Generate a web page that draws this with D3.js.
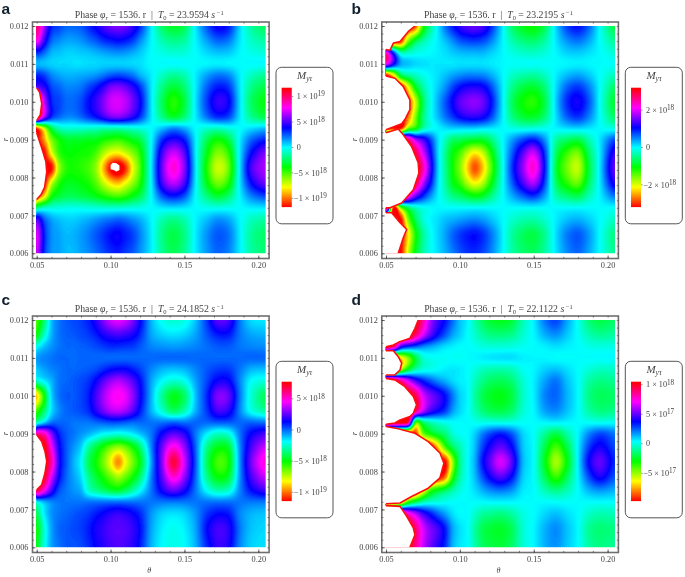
<!DOCTYPE html>
<html><head><meta charset="utf-8">
<style>html,body{margin:0;padding:0;background:#fff}svg{display:block;filter:blur(0.25px)}
text{font-family:"Liberation Serif",serif;fill:#444}</style>
<script src="https://cdn.jsdelivr.net/npm/d3@7"></script></head><body>
<svg id="c" width="685" height="577"></svg>
<script>
// theta (x 1e-3) columns and r (x 1e-3) rows of every grid
const thetaCols=[50,55,60,65,70,75,80,85,90,95,100,105,110,115,120,127.5,135,142.5,150,157.5,165,172.5,180,187.5,195,205];
const rRows=[12,11.6,11.3,11,10.7,10.4,10,9.6,9.3,9,8.65,8.25,7.85,7.5,7.2,6.9,6.5,6];
// field values, read as percent of the colour bar half-range (-100 bottom, +100 top)
const gridA=[
[90,55,30,25,20,20,22,28,35,42,48,50,48,40,28,2,-20,-28,-22,2,22,35,30,5,-12,-22],
[70,40,20,15,12,12,14,18,22,27,30,32,30,25,15,1,-10,-15,-12,1,12,20,17,3,-7,-12],
[30,20,10,8,6,6,7,8,10,12,14,15,14,11,7,0,-4,-6,-5,0,5,8,7,1,-3,-5],
[10,8,6,5,5,4,4,5,5,6,6,6,6,5,4,0,0,0,0,0,1,2,1,0,0,0],
[30,25,16,12,10,10,11,12,14,18,22,24,22,18,10,2,-8,-14,-10,2,12,18,15,2,-8,-14],
[45,38,24,20,16,16,18,24,30,38,48,50,46,38,26,3,-16,-26,-18,2,20,30,26,3,-15,-24],
[100,60,30,25,20,20,24,32,40,50,60,62,58,48,34,3,-22,-38,-25,3,25,40,34,4,-20,-32],
[100,55,28,20,16,16,20,26,32,40,48,50,46,38,26,3,-16,-28,-18,2,18,28,24,3,-14,-24],
[-90,-60,-25,-10,-6,-6,-6,-7,-8,-10,-10,-10,-8,-6,-4,0,8,15,10,0,-6,-8,-4,0,4,8],
[-100,-80,-50,-35,-28,-28,-28,-30,-30,-35,-38,-40,-36,-30,-24,0,28,38,30,2,-22,-34,-24,2,20,30],
[-100,-100,-65,-40,-33,-33,-35,-36,-42,-55,-65,-68,-60,-50,-36,1,42,60,44,2,-30,-50,-38,3,32,50],
[-100,-100,-100,-55,-38,-36,-38,-42,-52,-75,-100,-110,-95,-65,-42,2,48,72,50,3,-36,-60,-46,3,42,56],
[-100,-100,-60,-38,-30,-30,-32,-36,-44,-58,-70,-75,-65,-52,-36,1,42,58,42,2,-30,-48,-36,3,32,48],
[-90,-70,-35,-26,-22,-22,-24,-26,-30,-35,-40,-42,-38,-30,-22,0,22,30,22,0,-16,-26,-18,1,16,24],
[-15,-8,-5,-4,-3,-3,-3,-4,-5,-6,-6,-6,-5,-4,-3,0,3,4,3,0,-2,-3,-2,0,2,3],
[45,22,12,8,6,6,8,10,13,16,18,20,18,14,10,1,-10,-15,-10,1,8,14,11,1,-8,-12],
[65,30,15,12,9,10,13,17,22,27,32,34,30,25,16,2,-16,-24,-16,2,14,22,18,2,-13,-20],
[62,28,14,12,9,9,12,15,19,24,28,30,26,22,14,2,-14,-22,-14,2,13,20,16,2,-12,-18]];
const gridB=[
[-100,-100,-100,-100,-90,-40,-15,2,18,30,40,45,47,43,32,7,-18,-30,-34,-22,5,25,32,20,-2,-25],
[-100,-100,-95,-50,-25,-12,-4,2,8,15,22,25,26,24,18,4,-10,-17,-19,-12,3,14,18,11,-1,-14],
[70,25,-10,-8,-4,-2,0,2,4,7,9,10,10,10,7,2,-4,-7,-8,-5,1,6,7,4,0,-6],
[65,35,12,8,5,4,3,3,3,3,4,4,4,4,3,1,-1,-1,-1,-1,0,1,2,1,0,-1],
[-100,-70,-25,-14,-8,-3,1,4,8,12,15,17,17,16,12,3,-7,-11,-13,-8,2,9,12,7,-1,-9],
[-100,-100,-100,-65,-30,-12,-1,6,14,24,32,36,37,35,26,6,-14,-24,-27,-17,4,20,26,16,-1,-20],
[-100,-100,-100,-90,-60,-22,-3,10,22,34,45,50,52,48,36,8,-20,-34,-38,-24,6,28,36,22,-2,-28],
[-100,-100,-100,-85,-50,-18,-2,8,18,26,34,38,39,36,27,6,-15,-26,-28,-18,4,21,27,16,-1,-21],
[-100,-100,-100,-50,-35,-12,-2,1,4,6,6,6,6,4,3,1,-3,-5,-4,-2,1,4,5,3,0,-4],
[100,100,100,85,55,42,25,5,-8,-20,-22,-26,-28,-28,-20,-3,12,24,30,14,-12,-20,-24,-10,4,24],
[100,100,100,100,90,62,35,6,-14,-32,-42,-58,-68,-60,-40,-7,20,44,60,26,-20,-40,-48,-20,4,40],
[100,100,100,100,100,78,42,7,-14,-34,-50,-72,-90,-76,-50,-10,25,52,72,30,-25,-48,-58,-25,5,48],
[100,100,100,100,90,58,32,5,-12,-30,-40,-56,-66,-58,-38,-7,20,42,56,24,-20,-38,-46,-20,4,38],
[100,100,90,70,45,28,14,2,-7,-16,-20,-26,-30,-28,-18,-3,10,20,26,12,-10,-18,-22,-9,2,18],
[100,-100,-50,-22,-8,-2,0,1,0,0,0,0,0,0,0,0,0,0,0,0,0,0,0,0,0,0],
[-100,-100,-100,-50,-22,-6,1,4,8,10,12,14,15,13,9,2,-6,-10,-11,-6,2,8,10,6,0,-8],
[-100,-100,-100,-70,-36,-14,-2,5,12,20,26,30,32,28,20,5,-12,-21,-24,-14,4,17,22,13,-1,-17],
[-100,-100,-100,-60,-30,-12,-2,4,10,17,23,27,28,25,18,4,-11,-19,-21,-12,3,15,20,11,-1,-15]];
const gridC=[
[-42,-20,8,18,22,24,26,30,38,50,60,64,60,50,34,10,-2,-6,-3,8,26,45,42,18,5,3],
[-30,-8,10,18,21,22,24,26,30,36,40,42,40,36,28,12,6,4,6,12,22,30,30,18,12,10],
[0,8,14,18,20,20,21,22,24,26,28,28,27,26,22,16,14,13,14,16,19,22,22,18,16,15],
[14,16,18,20,20,20,20,20,20,20,20,20,20,20,20,20,20,20,20,20,20,20,20,20,20,20],
[8,12,16,18,20,20,21,22,24,28,32,34,34,30,25,16,10,8,10,16,22,26,26,18,10,8],
[-5,2,10,18,20,22,24,27,34,44,52,56,52,44,32,12,0,-6,-2,12,24,35,34,16,0,-4],
[-72,-35,5,18,22,22,25,30,42,54,64,68,64,52,35,10,-14,-30,-20,8,28,50,46,18,-5,-22],
[-40,-20,4,15,20,22,24,28,38,48,56,58,54,44,30,10,-6,-20,-10,10,26,42,38,16,-2,-12],
[-8,5,18,20,20,18,18,18,20,22,24,24,22,20,20,18,18,20,18,20,20,22,22,20,20,18],
[80,75,50,30,22,18,14,10,5,0,-2,-4,-2,2,8,18,35,45,38,18,2,-8,-4,18,34,42],
[100,100,66,36,22,14,6,-12,-24,-36,-46,-52,-46,-34,-18,16,48,70,52,20,-14,-30,-26,15,42,60],
[100,100,78,38,22,10,0,-22,-34,-48,-65,-82,-65,-48,-30,12,52,92,60,22,-20,-42,-34,14,48,72],
[100,95,62,34,20,12,4,-14,-26,-36,-46,-54,-46,-34,-18,16,46,72,52,20,-14,-32,-26,14,42,60],
[92,68,42,24,18,14,10,-6,-14,-20,-26,-28,-22,-12,0,18,36,46,36,18,0,-10,-6,16,32,42],
[2,10,16,18,18,18,18,18,18,18,18,18,18,18,18,18,18,18,18,18,18,18,18,18,18,18],
[-20,2,14,18,20,22,24,26,30,34,38,40,38,34,28,14,6,4,6,14,26,32,30,16,10,8],
[-32,-6,12,20,22,24,26,30,36,40,44,45,44,40,32,12,2,-2,2,12,32,42,38,18,8,5],
[-28,-4,12,18,22,22,24,28,34,38,42,44,42,38,30,10,0,-3,0,10,28,40,36,16,6,4]];
const gridD=[
[100,100,100,100,100,80,55,42,32,20,8,2,-10,-20,-27,-30,-26,-10,2,18,25,12,-2,-18,-24,-20],
[100,100,100,100,85,62,45,32,22,12,6,0,-6,-12,-16,-17,-15,-6,1,10,14,7,-1,-10,-14,-12],
[100,85,40,28,22,16,12,8,4,2,0,0,-2,-4,-5,-5,-4,-2,0,2,4,2,0,-3,-4,-3],
[-100,-90,-70,-50,-25,-6,-2,-1,-1,-1,-1,0,1,2,3,4,4,2,1,1,0,0,0,0,0,0],
[-100,-100,-60,-30,-12,-4,-2,0,2,3,2,0,-4,-8,-10,-11,-9,-2,1,6,8,4,0,-5,-8,-7],
[100,100,80,60,42,30,22,15,10,5,2,0,-8,-15,-20,-22,-18,-6,2,12,18,8,0,-12,-16,-14],
[100,100,100,100,90,62,50,42,32,18,6,1,-12,-22,-28,-31,-25,-8,2,16,20,10,0,-16,-22,-20],
[100,100,100,100,85,58,42,34,26,13,5,0,-9,-17,-22,-24,-19,-6,1,12,15,8,0,-12,-17,-15],
[100,100,100,85,-40,-20,-10,-5,-2,0,0,0,-2,-3,-3,-4,-3,-1,0,1,2,1,0,-1,-2,-1],
[-100,-100,-100,-100,-95,-50,-35,-25,-18,-6,-1,0,6,16,24,30,22,6,-1,-14,-24,-12,1,16,24,18],
[-100,-100,-100,-100,-100,-100,-100,-75,-42,-22,-10,-1,8,24,36,46,34,8,-1,-24,-42,-24,2,26,36,24],
[-100,-100,-100,-100,-100,-100,-100,-100,-100,-55,-16,-1,10,30,45,62,45,10,-1,-30,-55,-32,2,34,46,28],
[-100,-100,-100,-100,-100,-100,-100,-100,-85,-40,-12,-1,8,22,34,44,32,7,-1,-22,-40,-22,1,24,36,22],
[-100,-100,-100,-100,-100,-70,-42,-30,-22,-12,-4,0,4,10,15,18,14,3,0,-10,-16,-10,0,10,14,10],
[-100,-100,-80,-42,-25,-12,-6,-4,-2,-1,0,0,0,0,1,1,1,0,0,0,-1,-1,0,0,0,0],
[100,100,90,70,55,40,30,20,12,4,0,0,-6,-12,-14,-16,-12,-4,0,5,8,4,0,-7,-10,-9],
[100,100,100,100,85,62,50,42,30,12,4,0,-12,-22,-26,-28,-22,-6,1,10,15,8,0,-14,-18,-16],
[100,100,100,100,82,60,48,38,28,10,3,0,-10,-20,-24,-26,-20,-6,1,10,14,7,0,-12,-16,-14]];
// white (out of range) regions at the left edge: lists of [theta, r] boundary points
const lobesA=[[[50,10.37],[52,10.25],[53.4,9.95],[52.4,9.65],[50,9.5]],
 [[50,9.18],[53.4,8.78],[56.2,8.42],[56.8,8.15],[55.4,7.75],[53,7.55],[50,7.42]]];
const lobesB=[[[50,11.38],[52.7,11.36],[55,11.55],[59.5,11.59],[65,11.85],[69.5,12]],
 [[50,10.68],[56.1,10.62],[61.7,10.4],[66.2,10.05],[66.2,9.79],[62.8,9.53],[60.6,9.42],[50,9.26]],
 [[50,9.18],[58.3,9.28],[61.7,9.13],[67.3,8.82],[71.8,8.39],[72.3,8.12],[68.5,7.68],[60.6,7.33],[52.7,7.2],[50,7.2]],
 [[50,7.07],[53.8,7.07],[59.5,6.81],[64,6.63],[61.7,6.41],[58.3,6]]];
const lobesC=[[[50,8.97],[53.4,8.79],[55.6,8.53],[56.8,8.27],[55.6,7.96],[53.4,7.65],[50,7.52]]];
const lobesD=[[[50,11.29],[55,11.34],[58.3,11.41],[66.2,11.52],[69.6,11.78],[71.8,12]],
 [[50,11.19],[55,11.19],[58.3,11.03],[60.6,10.86],[59.5,10.68],[56,10.55],[50,10.55]],
 [[50,10.46],[56,10.42],[62.8,10.24],[68.5,9.98],[70.7,9.76],[68.5,9.54],[66.2,9.45],[59.5,9.36],[56,9.28],[50,9.25]],
 [[50,9.19],[58.3,9.13],[69.6,9.01],[78.6,8.79],[86.5,8.49],[89.2,8.22],[86.5,7.83],[78.6,7.56],[67.3,7.34],[59.5,7.17],[50,7.15]],
 [[50,7.1],[59.5,7.08],[64,6.82],[68.5,6.51],[69.6,6.33],[66.2,6]]];
// out-of-range core inside panel a
const holeA=[[100,8.33],[101.5,8.39],[104,8.38],[106,8.32],[106,8.2],[104,8.16],[102,8.2],[100,8.22]];
// colour bar ranges (values at bottom and top) and ticks as [mantissa, exponent]
const rangeA=[-11.7e18,11.7e18], rangeB=[-3.18e18,3.18e18], rangeC=[-11.4e18,7.7e18], rangeD=[-0.97e18,1.046e18];
const ticksA=[[1,19],[5,18],[0,0],[-5,18],[-1,19]];
const ticksB=[[2,18],[0,0],[-2,18]];
const ticksC=[[5,18],[0,0],[-5,18],[-1,19]];
const ticksD=[[1,18],[5,17],[0,0],[-5,17]];
const labels=["a","b","c","d"], rates=["23.9594","23.2195","24.1852","22.1122"];
const xTicks=[0.05,0.10,0.15,0.20], yTicks=[0.006,0.007,0.008,0.009,0.010,0.011,0.012];

const svg=d3.select("#c");
const defs=svg.append("defs");
defs.append("filter").attr("id","soft").attr("x","-2%").attr("y","-2%").attr("width","104%").attr("height","104%")
  .append("feGaussianBlur").attr("stdDeviation",0.55);
const hue=d3.scaleLinear([-100,100],[0,360]);
const colour=p=>d3.hsl(Math.min(359.9,Math.max(0,hue(p))),1,0.5).formatRgb();
const thresholds=d3.range(-100,100,1);
function cr(a,b,c,d,t){return 0.5*(2*b+(c-a)*t+(2*a-5*b+4*c-d)*t*t+(3*b-a-3*c+d)*t*t*t);}

function panel(i,grid,lobes,hole,range,ticks){
  const dx=i%2?349.3:0, dy=i>1?294:0;
  const x0=36.7+dx,x1=265.7+dx,y0=26+dy,y1=253.3+dy;
  const g=svg.append("g");
  const x=d3.scaleLinear([0.05,0.205],[x0,x1]), y=d3.scaleLinear([0.012,0.006],[y0,y1]);
  const W=230,H=228;
  const colIdx=d3.scaleLinear(thetaCols,d3.range(thetaCols.length));
  const rowIdx=d3.scaleLinear(rRows,d3.range(rRows.length));
  const px=d3.scaleLinear([0,W],[x0,x1]),py=d3.scaleLinear([0,H],[y0,y1]);
  const vals=new Float64Array(W*H);
  const C=grid[0].length,Rn=grid.length;
  const at=(r,c)=>grid[Math.max(0,Math.min(Rn-1,r))][Math.max(0,Math.min(C-1,c))];
  for(let j=0;j<H;j++){
    const rv=rowIdx(y.invert(py(j+0.5))*1000),r0=Math.min(Rn-2,Math.floor(rv)),tr=rv-r0;
    const rowv=new Array(C);
    for(let c=0;c<C;c++)rowv[c]=cr(at(r0-1,c),at(r0,c),at(r0+1,c),at(r0+2,c),tr);
    for(let k=0;k<W;k++){
      const cv=colIdx(x.invert(px(k+0.5))*1000),c0=Math.min(C-2,Math.floor(cv)),tc=cv-c0;
      const v=cr(rowv[Math.max(0,c0-1)],rowv[c0],rowv[c0+1],rowv[Math.min(C-1,c0+2)],tc);
      vals[j*W+k]=Math.max(-100,Math.min(100,v));
    }
  }
  const proj=d3.geoPath(d3.geoTransform({point(a,b){this.stream.point(px(a),py(b));}}));
  const clipId="clip"+i;
  defs.append("clipPath").attr("id",clipId).append("rect").attr("x",x0-0.7).attr("y",y0).attr("width",x1-x0+0.7).attr("height",y1-y0);
  const heat=g.append("g").attr("clip-path",`url(#${clipId})`).append("g").attr("filter","url(#soft)");
  heat.append("rect").attr("x",x0-2).attr("y",y0-2).attr("width",x1-x0+4).attr("height",y1-y0+4).attr("fill",colour(-100));
  heat.selectAll("path.band").data(d3.contours().size([W,H]).thresholds(thresholds)(vals)).join("path")
    .attr("class","band").attr("d",proj).attr("fill",d=>colour(d.value+0.5));
  const left=x(0.0485);
  const line=d3.line().x(d=>x(d[0]/1000)).y(d=>y(d[1]/1000));
  lobes.forEach(l=>{
    const first=l[0],last=l[l.length-1];
    heat.append("path").datum(l).attr("fill","#fff").attr("d",
      line(l)+`L${left},${y(last[1]/1000)}L${left},${y(first[1]/1000)}Z`);
    heat.append("path").datum(l).attr("fill","none").attr("stroke","#ff1010").attr("stroke-width",1.6)
      .attr("stroke-linejoin","round").attr("d",line(l));
  });
  if(hole) heat.append("path").datum(hole).attr("fill","#fff").attr("d",line(hole)+"Z");
  // frame and axes
  const fx0=x0-4.2,fx1=x1+3.4,fy0=y0-4,fy1=y1+5.2;
  g.append("rect").attr("x",fx0).attr("y",fy0).attr("width",fx1-fx0).attr("height",fy1-fy0)
    .attr("fill","none").attr("stroke","#6f6f6f").attr("stroke-width",1.6);
  const minorX=d3.range(0.05,0.2051,0.01), minorY=d3.range(0.006,0.01201,0.0002);
  const tickStyle=s=>{s.select(".domain").remove();s.selectAll("line").attr("stroke","#333").attr("stroke-width",0.6);};
  const xb=d3.axisBottom(x).tickValues(minorX).tickSize(-1.6).tickFormat("");
  g.append("g").attr("transform",`translate(0,${fy1})`).call(xb).call(tickStyle);
  g.append("g").attr("transform",`translate(0,${fy0})`).call(d3.axisTop(x).tickValues(minorX).tickSize(-1.6).tickFormat("")).call(tickStyle);
  g.append("g").attr("transform",`translate(${fx0},0)`).call(d3.axisLeft(y).tickValues(minorY).tickSize(-1.6).tickFormat("")).call(tickStyle);
  g.append("g").attr("transform",`translate(${fx1},0)`).call(d3.axisRight(y).tickValues(minorY).tickSize(-1.6).tickFormat("")).call(tickStyle);
  const xl=g.append("g").attr("transform",`translate(0,${fy1})`).call(d3.axisBottom(x).tickValues(xTicks).tickSize(-3).tickPadding(3.5).tickFormat(d3.format(".2f")));
  xl.select(".domain").remove();xl.selectAll("line").attr("stroke","#333").attr("stroke-width",0.7);
  xl.selectAll("text").attr("font-size",8.3).attr("font-family","Liberation Serif").attr("fill","#222");
  const yl=g.append("g").attr("transform",`translate(${fx0},0)`).call(d3.axisLeft(y).tickValues(yTicks).tickSize(-3).tickPadding(4).tickFormat(d3.format(".3f")));
  yl.select(".domain").remove();yl.selectAll("line").attr("stroke","#333").attr("stroke-width",0.7);
  yl.selectAll("text").attr("font-size",8.3).attr("font-family","Liberation Serif").attr("fill","#222");
  // axis titles
  g.append("text").attr("transform",`translate(${x0-28.7},${y(0.009)}) rotate(-90)`).attr("text-anchor","middle").attr("font-size",8).attr("font-style","italic").text("r");
  if(i>1) g.append("text").attr("x",x0+112.5).attr("y",y1+26).attr("text-anchor","middle").attr("font-size",8).attr("font-style","italic").text("θ");
  // title
  const t=g.append("text").attr("x",x0+112.5).attr("y",y0-8).attr("text-anchor","middle").attr("font-size",9.8).attr("fill","#222");
  t.append("tspan").text("Phase ");
  t.append("tspan").attr("font-style","italic").text("φ");
  t.append("tspan").attr("font-style","italic").attr("font-size",6.5).attr("dy",1.8).text("r");
  t.append("tspan").attr("dy",-1.8).text(" = 1536. r \u00a0|\u00a0 ");
  t.append("tspan").attr("font-style","italic").text("T");
  t.append("tspan").attr("font-size",6.5).attr("dy",1.8).text("0");
  t.append("tspan").attr("dy",-1.8).text(" = "+rates[i]+" ");
  t.append("tspan").attr("font-style","italic").text("s");
  t.append("tspan").attr("font-size",6.5).attr("dy",-3).text(" −1");
  // panel letter
  g.append("text").attr("x",(i%2?351.5:1.5)).attr("y",(i>1?304.5:13.5)).attr("font-size",15.5).attr("font-weight","bold").style("fill","#10202f").style("font-family","'Liberation Sans',sans-serif").text(labels[i]);
  // legend
  const bx=x1+16, bTop=y0+62, bBot=y0+181;
  g.append("rect").attr("x",x1+10.3).attr("y",y0+41.3).attr("width",57).attr("height",156.5).attr("rx",5.5)
    .attr("fill","#fff").attr("stroke","#555").attr("stroke-width",1);
  const lg=d3.scaleLinear(range,[bBot,bTop]);
  const lp=d3.scaleLinear([bBot,bTop],[-100,100]);
  g.append("g").selectAll("rect").data(d3.range(bBot,bTop,-1)).join("rect")
    .attr("x",bx).attr("width",10).attr("y",d=>d-1.3).attr("height",1.4).attr("fill",d=>colour(lp(d-0.5)));
  const tk=g.append("g");
  ticks.forEach(([m,e])=>{
    const v=m*Math.pow(10,e),yy=lg(v);
    tk.append("line").attr("x1",bx+10).attr("x2",bx+11.6).attr("y1",yy).attr("y2",yy).attr("stroke","#666").attr("stroke-width",0.7);
    const lb=tk.append("text").attr("x",bx+(m<0?12.4:15)).attr("y",yy+2.6).attr("font-size",8.2).attr("fill","#555");
    if(m===0) lb.text("0");
    else{lb.append("tspan").text((m<0?"−":"")+Math.abs(m)+" × 10");
      lb.append("tspan").attr("font-size",7.2).attr("dy",-2.8).text(e);}
  });
  const ttl=g.append("text").attr("x",x1+39).attr("y",y0+53).attr("text-anchor","middle").attr("font-size",11).attr("fill","#333");
  ttl.append("tspan").attr("font-style","italic").text("M");
  ttl.append("tspan").attr("font-style","italic").attr("font-size",7.5).attr("dy",2).text("yτ");
}
panel(0,gridA,lobesA,holeA,rangeA,ticksA);
panel(1,gridB,lobesB,null,rangeB,ticksB);
panel(2,gridC,lobesC,null,rangeC,ticksC);
panel(3,gridD,lobesD,null,rangeD,ticksD);
</script></body></html>
